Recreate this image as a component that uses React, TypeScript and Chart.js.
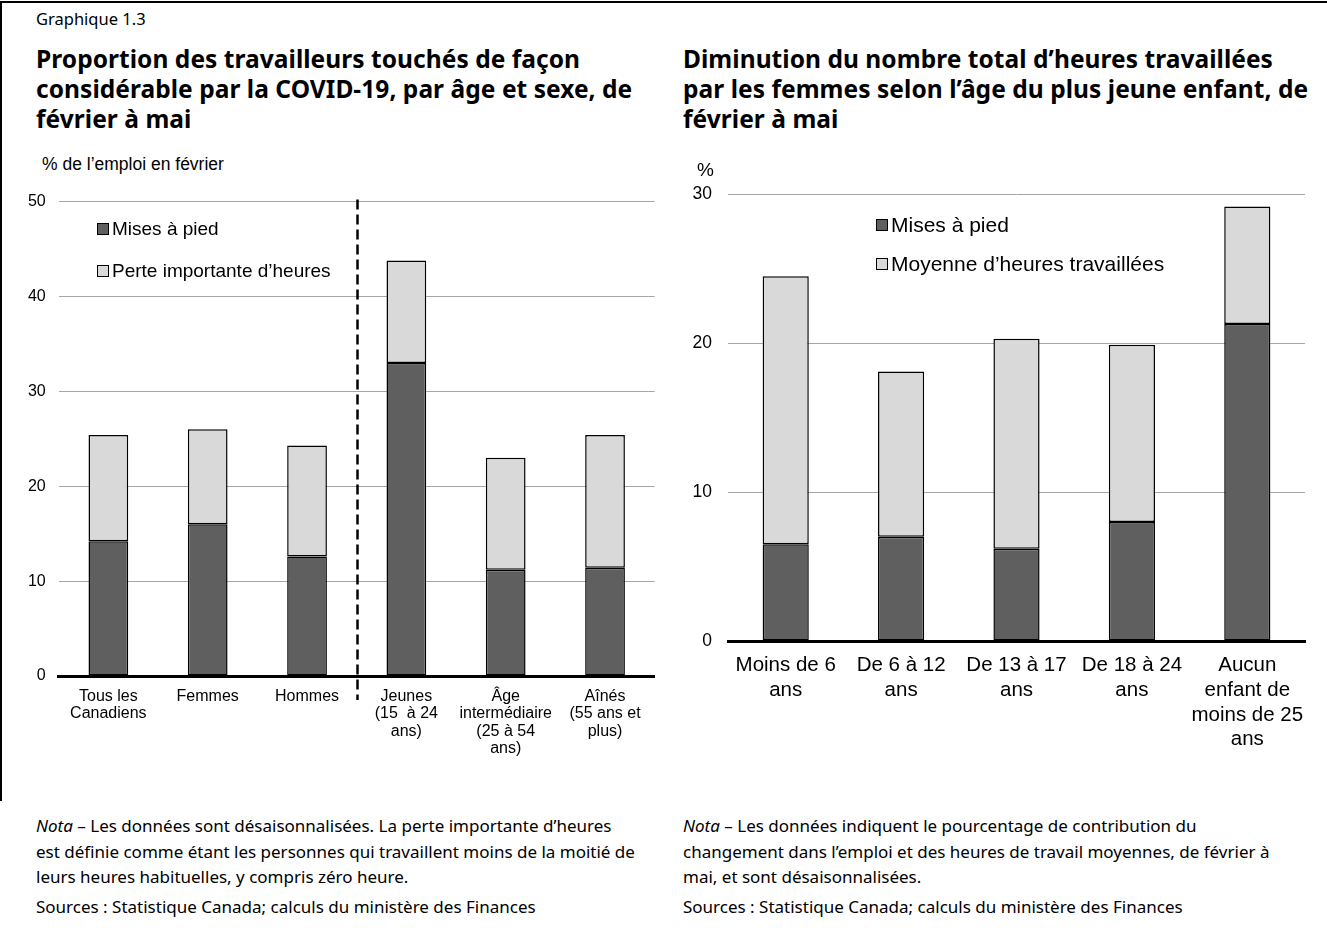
import React, { useEffect, useRef } from "react";
import { Chart, registerables } from "chart.js";

Chart.register(...registerables);

// ---------- DATA ----------
const leftCategories: string[][] = [
  ["Tous les", "Canadiens"],
  ["Femmes"],
  ["Hommes"],
  ["Jeunes", "(15  à 24", "ans)"],
  ["Âge", "intermédiaire", "(25 à 54", "ans)"],
  ["Aînés", "(55 ans et", "plus)"],
];
const leftLayoffs = [14.2, 16.0, 12.6, 33.0, 11.2, 11.4];
const leftHoursLoss = [11.2, 10.0, 11.7, 10.8, 11.8, 14.0];
const leftSeriesNames = ["Mises à pied", "Perte importante d\u2019heures"];
const leftAxisMax = 50;
const leftAxisStep = 10;

const rightCategories: string[][] = [
  ["Moins de 6", "ans"],
  ["De 6 à 12", "ans"],
  ["De 13 à 17", "ans"],
  ["De 18 à 24", "ans"],
  ["Aucun", "enfant de", "moins de 25", "ans"],
];
const rightLayoffs = [6.5, 7.0, 6.2, 8.0, 21.3];
const rightAvgHours = [18.0, 11.1, 14.1, 11.9, 7.9];
const rightSeriesNames = ["Mises à pied", "Moyenne d\u2019heures travaillées"];
const rightAxisMax = 30;
const rightAxisStep = 10;

// ---------- STYLE ----------
const DARK = "#5f5f5f";
const LIGHT = "#d9d9d9";
const GRID = "#a6a6a6";
const ARIAL = "'Liberation Sans', Arial, sans-serif";
const UI = "'Noto Sans', 'Open Sans', sans-serif";

type ChartSpec = {
  categories: string[][];
  a: number[];
  b: number[];
  names: string[];
  max: number;
  step: number;
  width: number;
  height: number;
  padRight: number;
  yWidth: number;
  xHeight: number;
  xFont: number;
  yFont: number;
  xLineHeight: number;
  xPad: number;
  yPad: number;
  divider?: number;
};

function StackedChart({ spec }: { spec: ChartSpec }) {
  const ref = useRef<HTMLCanvasElement | null>(null);
  useEffect(() => {
    if (!ref.current) return;
    const dividerPlugin = {
      id: "divider",
      afterDatasetsDraw(chart: any) {
        if (spec.divider === undefined) return;
        const xs = chart.scales.x;
        const x =
          (xs.getPixelForValue(spec.divider) + xs.getPixelForValue(spec.divider + 1)) / 2;
        const ctx = chart.ctx;
        const { top, bottom } = chart.chartArea;
        ctx.save();
        ctx.strokeStyle = "#000";
        ctx.lineWidth = 2.5;
        ctx.setLineDash([10, 5]);
        ctx.beginPath();
        ctx.moveTo(Math.round(x) + 0.5, top - 2);
        ctx.lineTo(Math.round(x) + 0.5, bottom + 24);
        ctx.stroke();
        ctx.restore();
      },
    };
    const chart = new Chart(ref.current, {
      type: "bar",
      data: {
        labels: spec.categories,
        datasets: [
          {
            label: spec.names[0],
            data: spec.a,
            backgroundColor: DARK,
            borderColor: "#000",
            borderWidth: 1.5,
            borderSkipped: false,
            categoryPercentage: 1,
            barPercentage: 0.4,
          },
          {
            label: spec.names[1],
            data: spec.b,
            backgroundColor: LIGHT,
            borderColor: "#000",
            borderWidth: 1.5,
            borderSkipped: false,
            categoryPercentage: 1,
            barPercentage: 0.4,
          },
        ],
      },
      options: {
        animation: false,
        responsive: false,
        devicePixelRatio: 1,
        layout: { padding: { top: 0, right: spec.padRight, left: 0, bottom: 0 } },
        plugins: { legend: { display: false }, tooltip: { enabled: false } },
        scales: {
          x: {
            stacked: true,
            grid: { display: false, drawTicks: false },
            border: { display: true, color: "#000", width: 3 },
            ticks: {
              color: "#000",
              font: { family: ARIAL, size: spec.xFont, lineHeight: spec.xLineHeight },
              padding: spec.xPad,
              maxRotation: 0,
              autoSkip: false,
            },
            afterFit(scale: any) {
              scale.height = spec.xHeight;
            },
          },
          y: {
            stacked: true,
            min: 0,
            max: spec.max,
            grid: { color: GRID, lineWidth: 1, drawTicks: false },
            border: { display: false },
            ticks: {
              stepSize: spec.step,
              color: "#000",
              font: { family: ARIAL, size: spec.yFont },
              padding: spec.yPad,
            },
            afterFit(scale: any) {
              scale.width = spec.yWidth;
            },
          },
        },
      },
      plugins: [dividerPlugin],
    } as any);
    return () => chart.destroy();
  }, []);
  return <canvas ref={ref} width={spec.width} height={spec.height} style={{ display: "block" }} />;
}

function LegendItem({ color, text, x, y, size }: { color: string; text: string; x: number; y: number; size: number }) {
  return (
    <div
      style={{
        position: "absolute",
        left: x,
        top: y - 12,
        height: 24,
        lineHeight: "24px",
        display: "flex",
        alignItems: "center",
        fontFamily: ARIAL,
        fontSize: size,
        color: "#000",
        whiteSpace: "nowrap",
      }}
    >
      <span
        style={{
          display: "inline-block",
          width: 10,
          height: 10,
          background: color,
          border: "1px solid #000",
          marginRight: 3,
        }}
      />
      {text}
    </div>
  );
}

const abs = (l: number, t: number, extra: any = {}) => ({ position: "absolute" as const, left: l, top: t, ...extra });

export default function App() {
  useEffect(() => {
    document.body.style.margin = "0";
  }, []);

  const leftSpec: ChartSpec = {
    categories: leftCategories,
    a: leftLayoffs,
    b: leftHoursLoss,
    names: leftSeriesNames,
    max: leftAxisMax,
    step: leftAxisStep,
    width: 660,
    height: 601,
    padRight: 5.3,
    yWidth: 58.7,
    xHeight: 104,
    xFont: 16,
    yFont: 16,
    xLineHeight: 1.08,
    xPad: 12,
    yPad: 13,
    divider: 2,
  };
  const rightSpec: ChartSpec = {
    categories: rightCategories,
    a: rightLayoffs,
    b: rightAvgHours,
    names: rightSeriesNames,
    max: rightAxisMax,
    step: rightAxisStep,
    width: 667,
    height: 612,
    padRight: 22,
    yWidth: 68,
    xHeight: 139,
    xFont: 20.5,
    yFont: 17.5,
    xLineHeight: 1.2,
    xPad: 12.5,
    yPad: 16,
  };

  const titleStyle = {
    fontFamily: UI,
    fontWeight: 700,
    fontSize: 24.5,
    letterSpacing: "0.05px",
    lineHeight: "30px",
    color: "#000",
    whiteSpace: "nowrap" as const,
  };
  const noteStyle = {
    fontFamily: UI,
    fontSize: 17,
    lineHeight: "25.5px",
    color: "#000",
    whiteSpace: "nowrap" as const,
  };

  return (
    <div style={{ position: "relative", width: 1327, height: 928, background: "#fff", overflow: "hidden" }}>
      {/* frame */}
      <div style={abs(0, 1, { width: 1327, height: 2, background: "#000" })} />
      <div style={abs(0, 1, { width: 2, height: 800, background: "#000" })} />

      <div style={abs(0, 179)}>
        <StackedChart spec={leftSpec} />
      </div>
      <div style={abs(660, 168)}>
        <StackedChart spec={rightSpec} />
      </div>

      <div style={abs(36, 9, { fontFamily: UI, fontSize: 16.5, lineHeight: "20px", whiteSpace: "nowrap" })}>
        Graphique 1.3
      </div>

      <div style={abs(36, 44, titleStyle)}>
        Proportion des travailleurs touchés de façon
        <br />
        considérable par la COVID-19, par âge et sexe, de
        <br />
        février à mai
      </div>
      <div style={abs(683, 44, titleStyle)}>
        Diminution du nombre total d&#8217;heures travaillées
        <br />
        par les femmes selon l&#8217;âge du plus jeune enfant, de
        <br />
        février à mai
      </div>

      <div style={abs(42, 154, { fontFamily: ARIAL, fontSize: 17.5, lineHeight: "20px", whiteSpace: "nowrap" })}>
        % de l&#8217;emploi en février
      </div>
      <div style={abs(697, 159, { fontFamily: ARIAL, fontSize: 19, lineHeight: "22px" })}>%</div>

      <LegendItem color={DARK} text={leftSeriesNames[0]} x={97} y={229} size={19} />
      <LegendItem color={LIGHT} text={leftSeriesNames[1]} x={97} y={271} size={19} />
      <LegendItem color={DARK} text={rightSeriesNames[0]} x={876} y={225} size={21} />
      <LegendItem color={LIGHT} text={rightSeriesNames[1]} x={876} y={264} size={21} />

      <div style={abs(36, 813, noteStyle)}>
        <i>Nota</i> – Les données sont désaisonnalisées. La perte importante d&#8217;heures
        <br />
        est définie comme étant les personnes qui travaillent moins de la moitié de
        <br />
        leurs heures habituelles, y compris zéro heure.
      </div>
      <div style={abs(36, 894, noteStyle)}>Sources : Statistique Canada; calculs du ministère des Finances</div>

      <div style={abs(683, 813, noteStyle)}>
        <i>Nota</i> – Les données indiquent le pourcentage de contribution du
        <br />
        changement dans l&#8217;emploi et des heures de travail moyennes, de février à
        <br />
        mai, et sont désaisonnalisées.
      </div>
      <div style={abs(683, 894, noteStyle)}>Sources : Statistique Canada; calculs du ministère des Finances</div>
    </div>
  );
}
